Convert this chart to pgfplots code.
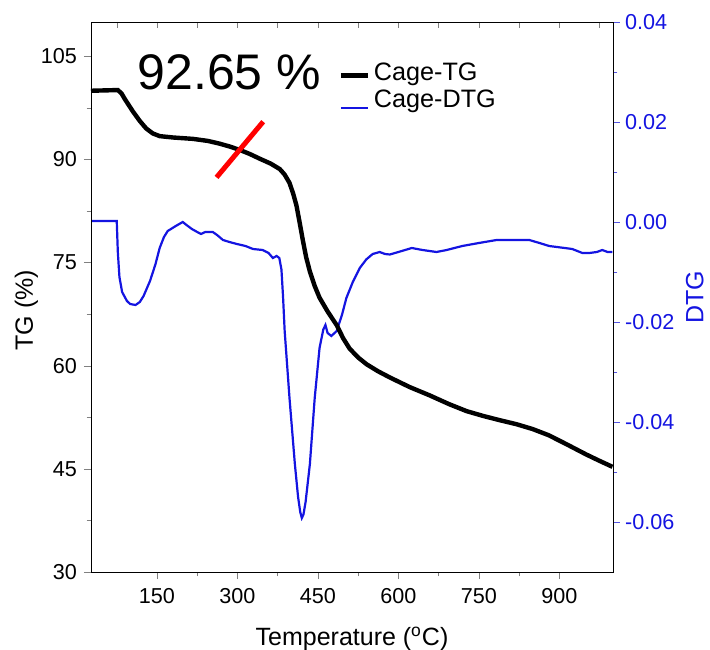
\documentclass[border=0pt]{standalone}
\usepackage{fontspec}
\setmainfont{Liberation Sans}
\usepackage{pgfplots}
\pgfplotsset{compat=1.18}

\definecolor{dtgblue}{RGB}{20,20,225}
\definecolor{axblue}{RGB}{85,85,225}

\pgfplotsset{
  common/.style={
    width=261pt, height=275pt, scale only axis,
    xmin=27, xmax=1000,
    at={(0,0)}, anchor=south west,
    /pgf/number format/assume math mode=true,
    tick label style={font=\fontsize{10.8}{13}\selectfont},
    label style={font=\fontsize{12.5}{15}\selectfont},
    major tick length=3.5pt, minor tick length=2.2pt,
  }
}

\begin{document}
\begin{tikzpicture}
\useasboundingbox (-45.5pt,-38.5pt) rectangle (309.5pt,286pt);

% top inward ticks
\begin{axis}[common, ymin=0, ymax=1,
  axis x line*=top, axis y line=none,
  tick align=inside,
  xtick={75,150,...,975}, xticklabels={},
  major tick length=2.8pt,
]
\end{axis}

% right DTG axis
\begin{axis}[common, ymin=-0.07, ymax=0.04,
  axis y line*=right, axis x line=none,
  tick align=outside,
  ytick={-0.06,-0.04,-0.02,0,0.02,0.04},
  minor y tick num=1,
  scaled y ticks=false,
  yticklabel style={color=dtgblue, xshift=-1pt,
    /pgf/number format/fixed,
    /pgf/number format/fixed zerofill,
    /pgf/number format/precision=2},
  y axis line style={axblue},
  y tick style={axblue},
  ylabel={DTG},
  ylabel style={color=dtgblue, yshift=1pt},
]
\addplot[dtgblue, line width=1.1pt] coordinates {
(27,0.0002) (75,0.0002) (77,-0.006) (80,-0.0110) (85,-0.0140) (94,-0.0158)
(100,-0.0164) (110,-0.0166) (118,-0.0160) (125,-0.0148) (137,-0.0118)
(147,-0.0085) (155,-0.0052) (163,-0.0030) (170,-0.0018) (185,-0.0008)
(198,0.0000) (205,-0.0006) (215,-0.0014) (225,-0.0020) (232,-0.0024)
(240,-0.0020) (254,-0.0020) (262,-0.0026) (273,-0.0036) (285,-0.0040)
(299,-0.0044) (315,-0.0048) (329,-0.0054) (347,-0.0056) (358,-0.0062)
(366,-0.0072) (373,-0.0068) (378,-0.0072) (382,-0.0095) (385,-0.0150)
(388,-0.0218) (397,-0.0352) (407,-0.0484) (413,-0.0550) (417,-0.0580)
(420,-0.0592) (423,-0.0585) (427,-0.0560) (435,-0.0484) (444,-0.0352)
(453,-0.0252) (460,-0.0215) (464,-0.0206) (468,-0.0222) (475,-0.0228)
(485,-0.0218) (495,-0.0185) (503,-0.0152) (515,-0.0120) (528,-0.0092)
(540,-0.0075) (552,-0.0064) (565,-0.0060) (575,-0.0064) (584,-0.0065)
(600,-0.0060) (625,-0.0052) (645,-0.0056) (671,-0.0060) (690,-0.0056)
(719,-0.0048) (750,-0.0042) (783,-0.0036) (810,-0.0036) (844,-0.0036)
(863,-0.0042) (881,-0.0048) (910,-0.0052) (924,-0.0054) (943,-0.0062)
(956,-0.0062) (970,-0.0060) (980,-0.0056) (990,-0.0060) (999,-0.0060)
};
\end{axis}

% left TG axis
\begin{axis}[common, ymin=30, ymax=110,
  tick align=outside,
  xtick pos=left, ytick pos=left,
  xtick={150,300,...,900}, minor x tick num=1,
  ytick={30,45,...,105}, minor y tick num=1,
  xticklabel style={yshift=-1pt},
  xlabel={Temperature (\textsuperscript{o}C)},
  xlabel style={yshift=-5pt},
  ylabel={TG (\%)},
  ylabel shift=-5.5pt,
  ylabel style={at={(ticklabel cs:0.476)}},
  legend style={draw=none, fill=none, at={(0.462,0.94)}, anchor=north west,
    font=\fontsize{12.6}{15}\selectfont, row sep=-1pt},
  legend cell align=left,
  legend image code/.code={\draw[#1] (0pt,-1pt) -- (13.5pt,-1pt);},
]
\addplot[black, line width=2.2pt] coordinates {
(27,100) (77,100.1) (84,99.6) (90,98.8) (105,97) (118,95.6) (130,94.5) (142,93.8)
(155,93.4) (180,93.2) (217,93.0) (245,92.7) (267,92.3) (285,91.9) (304,91.4)
(323,90.8) (342,90.1) (362,89.4) (379,88.6) (388,87.8) (397,86.6) (404,85.0)
(410,83.3) (416,80.8) (422,78.2) (428,75.8) (435,73.7) (444,71.6) (453,69.9)
(468,67.9) (485,65.9) (497,64.0) (509,62.5) (525,61.2) (541,60.2) (562,59.2)
(584,58.3) (621,56.9) (658,55.7) (695,54.4) (727,53.4) (758,52.7) (788,52.1)
(820,51.5) (850,50.8) (880,49.9) (913,48.6) (950,47.1) (974,46.2) (999,45.3)
};
\addlegendentry{Cage-TG}
\addlegendimage{legend image code/.code={\draw[dtgblue, line width=1pt] (0pt,-4pt) -- (13.5pt,-4pt);}}
\addlegendentry{Cage-DTG}
\addplot[red, line width=2.5pt, forget plot] coordinates {(261,87.4) (348,95.5)};
\node[anchor=base west, font=\fontsize{25}{30}\selectfont, inner sep=0pt]
  at (axis cs:113,100.2) {92.65 \%};
\end{axis}
\end{tikzpicture}
\end{document}
